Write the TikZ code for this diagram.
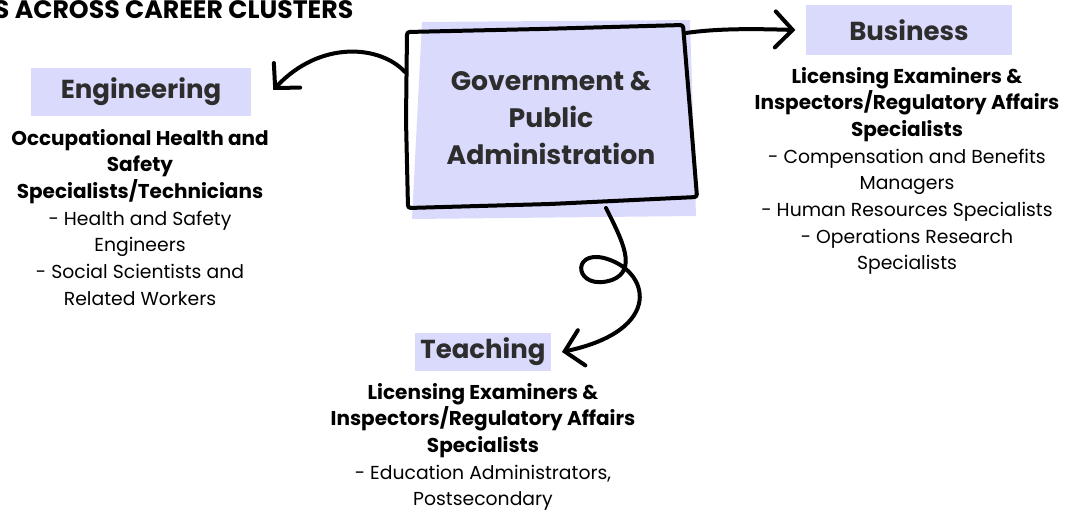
\documentclass[tikz,border=0pt]{standalone}
\usepackage{fontspec}
\setmainfont{Poppins}
\usepackage{tikz}
\usetikzlibrary{arrows.meta,positioning}
\definecolor{lavender}{RGB}{218,218,252}
\definecolor{labelgray}{RGB}{45,45,45}
\newcommand{\hd}[1]{{\fontsize{15}{20}\selectfont\bfseries #1}}
\tikzset{
	clusterbox/.style={fill=lavender, text=labelgray, font=\fontsize{19.5}{22}\selectfont\bfseries, minimum height=36pt, inner xsep=0pt},
	jobtext/.style={align=center, font=\fontsize{14.1}{20}\selectfont, inner sep=0pt},
	scribble/.style={line width=3pt, line cap=round, line join=round, -{Straight Barb[length=13pt,width=27pt,line width=3pt,line cap=round]}}
}

\begin{document}
\begin{tikzpicture}[x=0.75pt,y=-0.75pt]
			\useasboundingbox (0,0) rectangle (1081,510);
			\clip (0,0) rectangle (1081,510);
			% title
			\node[anchor=east, font=\fontsize{18.9}{21}\selectfont\bfseries] (title) at (358,10) {TS ACROSS CAREER CLUSTERS};
			
			% central box
			\fill[lavender] (422,22) -- (690,20) -- (696,216) -- (412,219) -- cycle;
			\draw[line width=3pt, line join=round, rounded corners=2pt] (407,32) -- (540,29) -- (683,25) -- (690,110) -- (697,197) -- (550,204) -- (408,208) -- (406,120) -- cycle;
			\node[align=center, text=labelgray, font=\fontsize{20}{27.5}\selectfont\bfseries] (gov) at (551,118) {Government \&\\Public\\Administration};
			\coordinate (govW) at (405,72);
			\coordinate (govE) at (686,33);
			\coordinate (govS) at (606,208);
			
			% clusters
			\node[clusterbox, minimum width=165pt] (eng) at (141,92) {Engineering};
			\node[clusterbox, minimum width=155pt, minimum height=37.5pt] (bus) at (909,30) {Business};
			\node[clusterbox, minimum width=102pt, minimum height=28pt] (tea) at (483,352) {Teaching};
			
			\node[jobtext, anchor=north] (engjobs) at (140,129) {\hd{Occupational Health and}\\\hd{Safety}\\\hd{Specialists/Technicians}\\- Health and Safety\\Engineers\\- Social Scientists and\\Related Workers};
			\node[jobtext, anchor=north] (busjobs) at (907,67) {\hd{Licensing Examiners \&}\\\hd{Inspectors/Regulatory Affairs}\\\hd{Specialists}\\- Compensation and Benefits\\Managers\\- Human Resources Specialists\\- Operations Research\\Specialists};
			\node[jobtext, anchor=north] (teajobs) at (483,383) {\hd{Licensing Examiners \&}\\\hd{Inspectors/Regulatory Affairs}\\\hd{Specialists}\\- Education Administrators,\\Postsecondary};
			
			% arrows
			\draw[scribble] (govW) .. controls (380,45) and (320,40) .. ([shift={(22,-2)}]eng.east);
			\draw[scribble] (govE) .. controls (720,28) and (760,29) .. ([xshift=-7.5pt]bus.west);
			\draw[scribble] (govS) .. controls (622,240) and (638,270) .. (612,280) .. controls (575,292) and (570,250) .. (604,258) .. controls (650,270) and (665,330) .. ([xshift=8pt]tea.east);
		\end{tikzpicture}
\end{document}
